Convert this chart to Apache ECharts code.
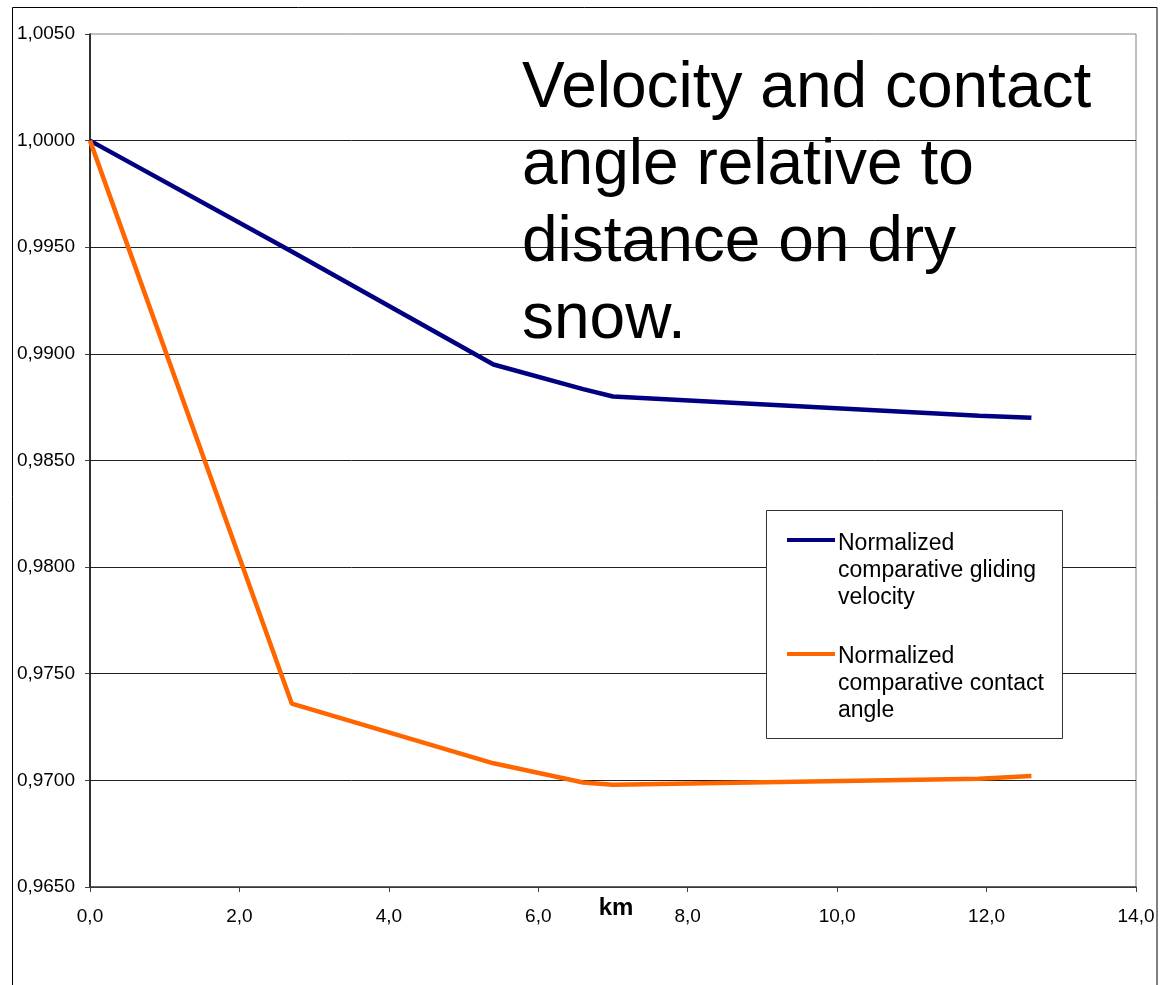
<!DOCTYPE html>
<html>
<head>
<meta charset="utf-8">
<script src="https://cdn.jsdelivr.net/npm/echarts@6/dist/echarts.min.js"></script>
<style>
html,body{margin:0;padding:0;background:#fff;}
#chart{width:1170px;height:985px;}
</style>
</head>
<body>
<div id="chart"></div>
<script>
// ---- data ----
var km = [0.0, 2.7, 5.4, 6.6, 7.0, 11.9, 12.6];
var glidingVelocity = [1.0000, 0.9948, 0.9895, 0.98835, 0.9880, 0.9871, 0.9870];
var contactAngle = [1.0000, 0.9736, 0.9708, 0.9699, 0.9698, 0.97008, 0.9702];
var seriesNames = ['Normalized\ncomparative gliding\nvelocity', 'Normalized\ncomparative contact\nangle'];
var titleText = 'Velocity and contact\nangle relative to\ndistance on dry\nsnow.';
var xAxisName = 'km';

function pairs(xs, ys) { return xs.map(function (x, i) { return [x, ys[i]]; }); }
function comma(v, d) { return v.toFixed(d).replace('.', ','); }

var chart = echarts.init(document.getElementById('chart'), null, {renderer: 'canvas'});
var FONT = 'Liberation Sans, Arial, sans-serif';
var colors = ['#000080', '#FF6600'];

chart.setOption({
  animation: false,
  backgroundColor: '#ffffff',
  title: {
    text: titleText,
    left: 522, top: 51, padding: 0,
    textStyle: {fontFamily: FONT, fontSize: 64, fontWeight: 'normal', color: '#000', lineHeight: 77}
  },
  grid: {left: 90, right: 34, top: 34, bottom: 98, show: true, borderColor: '#808080', borderWidth: 1, backgroundColor: 'transparent'},
  xAxis: {
    type: 'value', min: 0, max: 14, interval: 2,
    name: xAxisName, nameLocation: 'middle', nameGap: 9, nameMoveOverlap: false,
    nameTextStyle: {fontFamily: FONT, fontSize: 24, fontWeight: 'bold', color: '#000', padding: [0, 0, 0, 6]},
    axisLine: {show: true, onZero: false, lineStyle: {color: '#404040', width: 1.5}},
    axisTick: {show: true, inside: false, length: 5, lineStyle: {color: '#404040'}},
    axisLabel: {margin: 20, fontFamily: FONT, fontSize: 19, color: '#000', formatter: function (v) { return comma(v, 1); }},
    splitLine: {show: false}
  },
  yAxis: {
    type: 'value', min: 0.965, max: 1.005, interval: 0.005,
    axisLine: {show: true, onZero: false, lineStyle: {color: '#000', width: 1.5}},
    axisTick: {show: true, inside: false, length: 5, lineStyle: {color: '#404040'}},
    axisLabel: {margin: 15, fontFamily: FONT, fontSize: 19, color: '#000', formatter: function (v) { return comma(v, 4); }},
    splitLine: {show: true, showMaxLine: false, lineStyle: {color: '#202020', width: 1}}
  },
  series: [
    {name: seriesNames[0], type: 'line', data: pairs(km, glidingVelocity), symbol: 'none', lineStyle: {color: colors[0], width: 4.5}, itemStyle: {color: colors[0]}, z: 3},
    {name: seriesNames[1], type: 'line', data: pairs(km, contactAngle), symbol: 'none', lineStyle: {color: colors[1], width: 4.5}, itemStyle: {color: colors[1]}, z: 3}
  ],
  graphic: [
    {type: 'rect', silent: true, z: 100, shape: {x: 12.5, y: 7.5, width: 1144.5, height: 1000}, style: {fill: 'none', stroke: '#000', lineWidth: 1}},
    {type: 'rect', silent: true, z: 100, shape: {x: 766.5, y: 510.5, width: 296, height: 228}, style: {fill: '#fff', stroke: '#333', lineWidth: 1}},
    {type: 'line', silent: true, z: 101, shape: {x1: 787, y1: 540, x2: 835, y2: 540}, style: {stroke: colors[0], lineWidth: 4}},
    {type: 'line', silent: true, z: 101, shape: {x1: 787, y1: 654, x2: 835, y2: 654}, style: {stroke: colors[1], lineWidth: 4}},
    {type: 'text', silent: true, z: 101, x: 838, y: 530, style: {text: seriesNames[0], font: '23px ' + FONT, fill: '#000', lineHeight: 27, verticalAlign: 'top'}},
    {type: 'text', silent: true, z: 101, x: 838, y: 643, style: {text: seriesNames[1], font: '23px ' + FONT, fill: '#000', lineHeight: 27, verticalAlign: 'top'}}
  ]
});
</script>
</body>
</html>
